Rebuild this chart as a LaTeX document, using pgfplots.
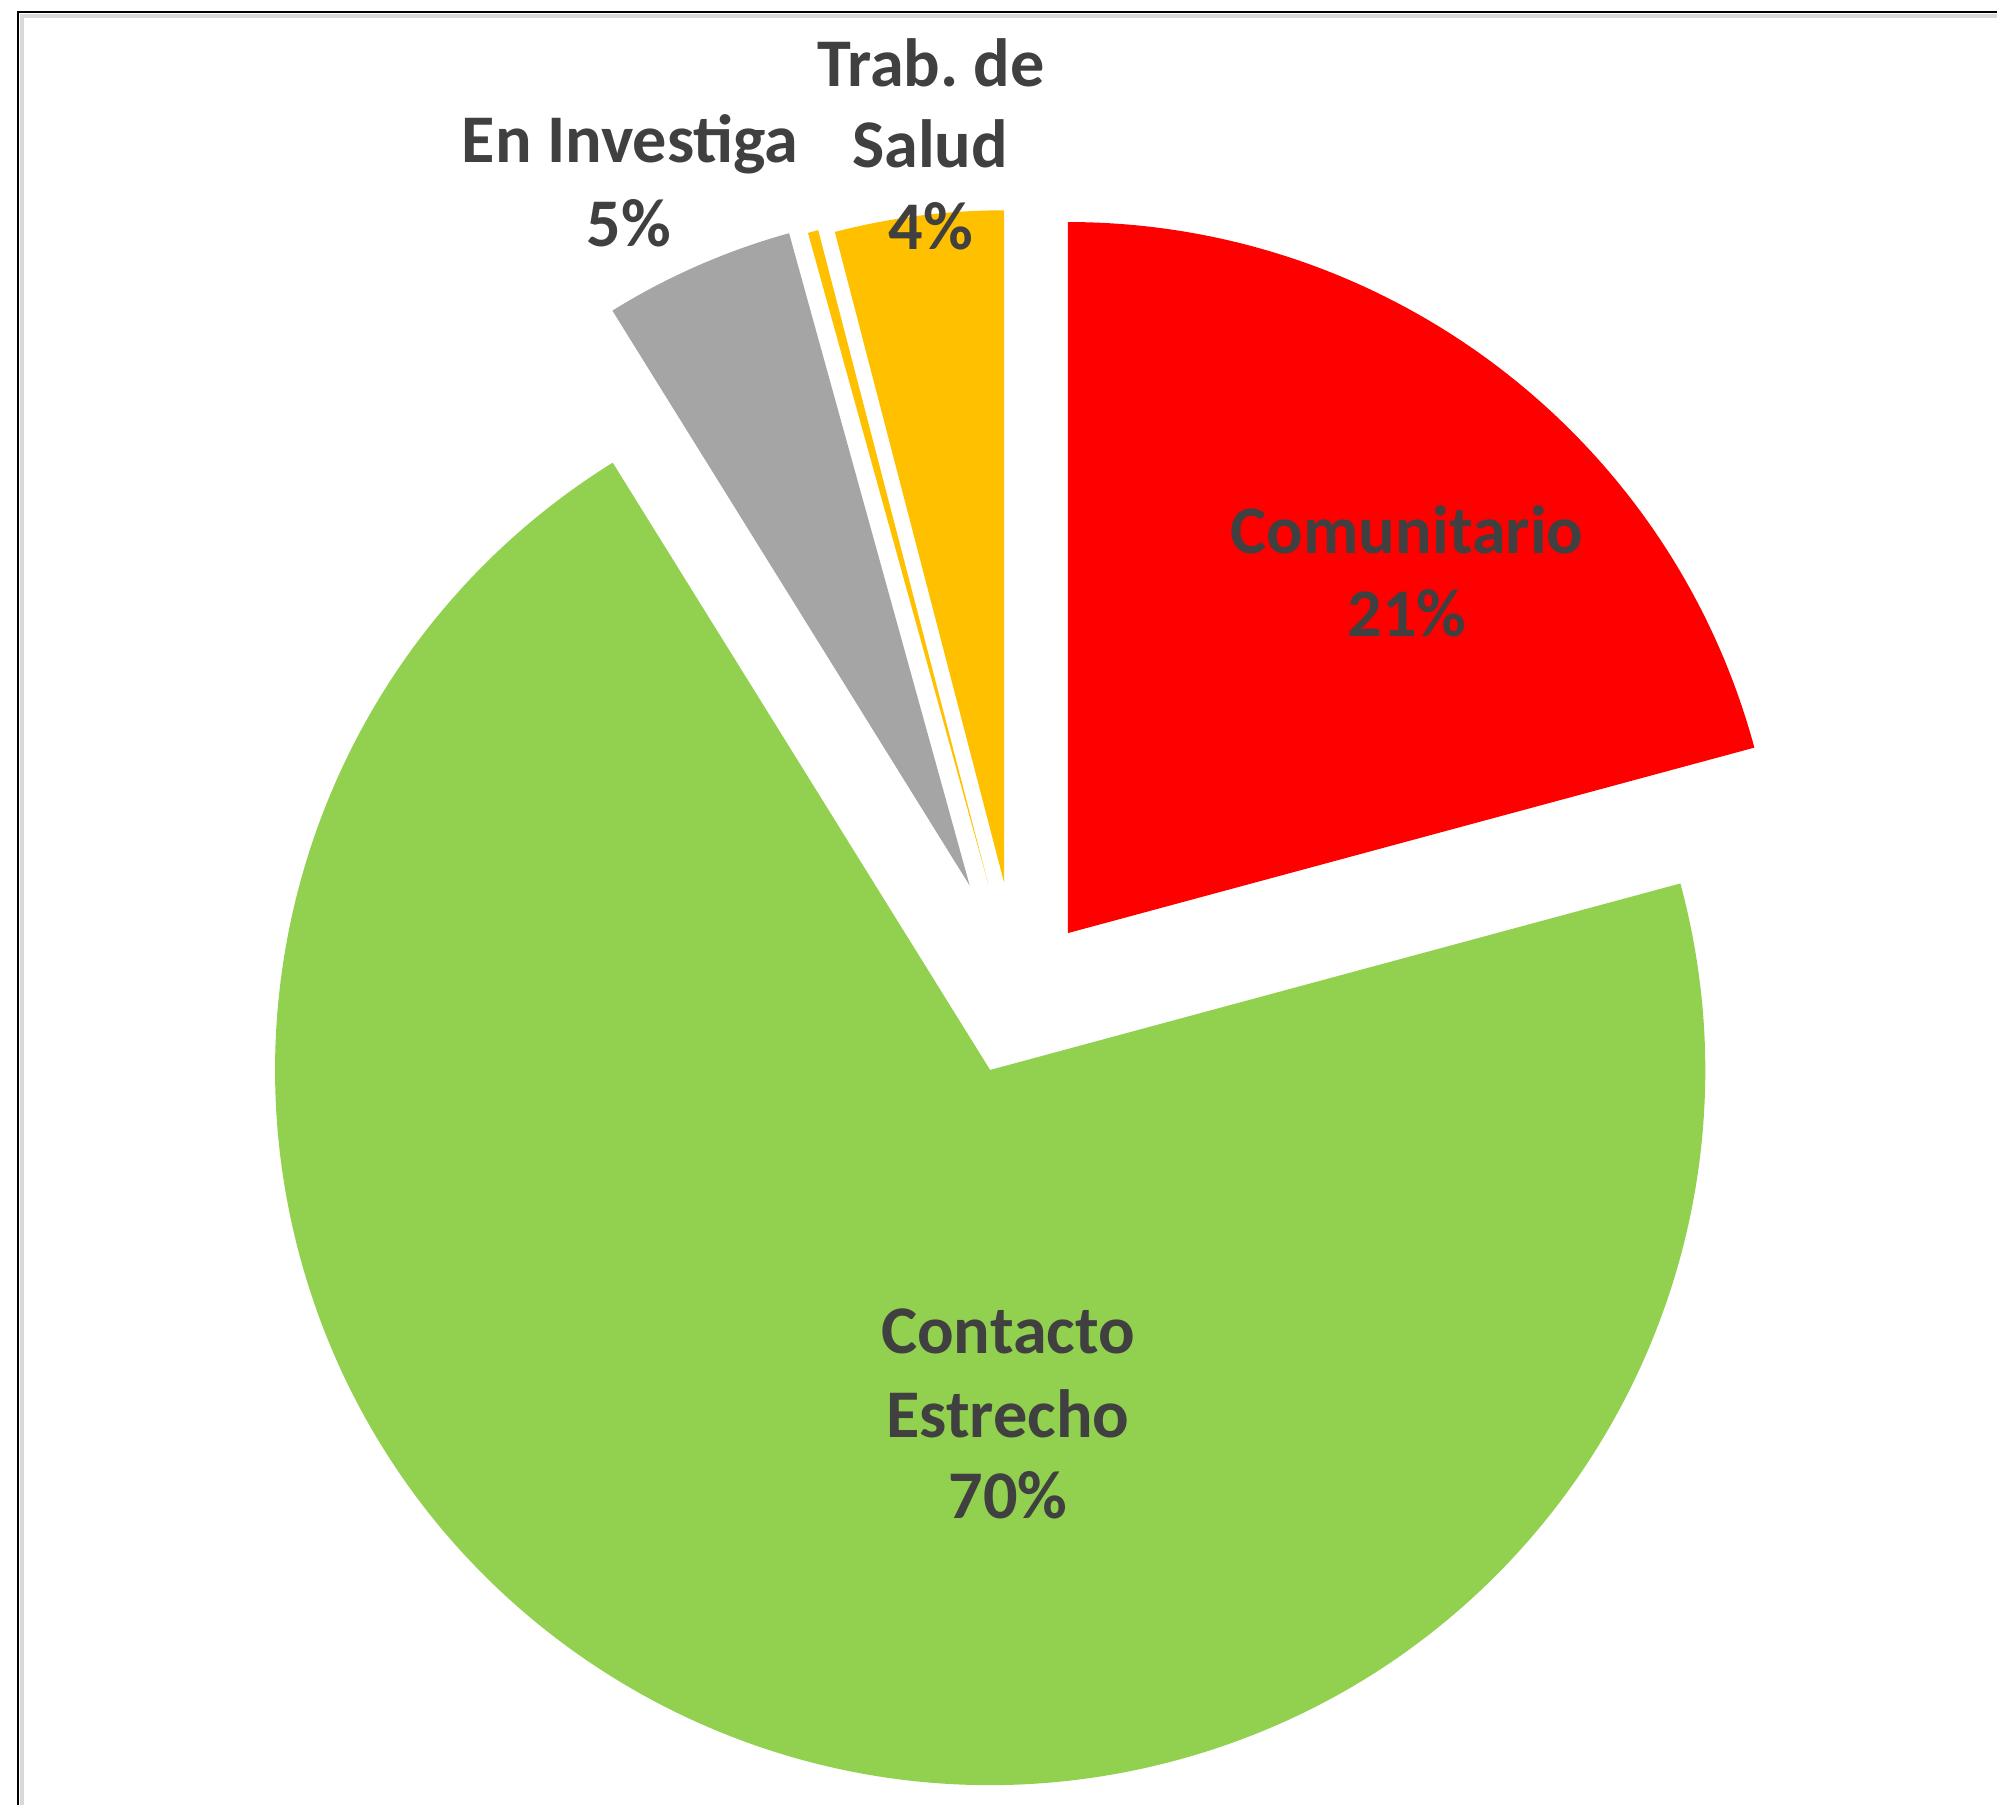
\documentclass[border=0pt]{standalone}
\usepackage{pgfplots}
\usepackage{pgfplotstable}
\pgfplotsset{compat=1.18}
\usepackage{fontspec}
\setmainfont{Carlito}
\frenchspacing

\definecolor{sliceRed}{HTML}{FF0000}
\definecolor{sliceGreen}{HTML}{92D050}
\definecolor{sliceGray}{HTML}{A5A5A5}
\definecolor{sliceYellow}{HTML}{FFC000}
\definecolor{labelgray}{HTML}{404040}
\definecolor{frameshadow}{HTML}{D9D9D9}

% share in percent (clockwise from 12 o'clock), explosion and radius in px
\pgfplotstableread{
share explode radius colour
20.80  81 711 sliceRed
70.35  78 715 sliceGreen
4.55  122 677 sliceGray
0.25  118 675 sliceYellow
4.05  116 672 sliceYellow
}\piedata

\begin{document}
\begin{tikzpicture}
\begin{axis}[
  name=ax,
  x=0.01cm, y=0.01cm,
  xmin=0, xmax=1997, ymin=0, ymax=1805,
  hide axis, clip=false, scale only axis
]
\pgfplotsextra{
  % frame of the chart area (cut off right and bottom)
  \draw[frameshadow, line width=0.04cm] (axis cs:22,0) -- (axis cs:22,1789) -- (axis cs:1997,1789);
  \draw[black, line width=0.022cm] (axis cs:18.3,0) -- (axis cs:18.3,1792.7) -- (axis cs:1997,1792.7);
  % slices
  \xdef\angA{90}
  \foreach \i in {0,...,4}{
    \pgfplotstablegetelem{\i}{share}\of\piedata \let\share\pgfplotsretval
    \pgfplotstablegetelem{\i}{explode}\of\piedata \let\ex\pgfplotsretval
    \pgfplotstablegetelem{\i}{radius}\of\piedata \let\rad\pgfplotsretval
    \pgfplotstablegetelem{\i}{colour}\of\piedata \let\col\pgfplotsretval
    \pgfmathsetmacro\angB{\angA-3.6*\share}
    \pgfmathsetmacro\mid{(\angA+\angB)/2}
    \pgfmathsetmacro\cx{1018.7+\ex*cos(\mid)}
    \pgfmathsetmacro\cy{807.6+\ex*sin(\mid)}
    \pgfmathsetmacro\rr{0.01*\rad}
    \fill[fill=\col] (axis cs:\cx,\cy) -- ++(\angA:\rr cm)
      arc[start angle=\angA, end angle=\angB, radius=\rr cm] -- cycle;
    \xdef\angA{\angB}
  }
}
% data labels
\begin{scope}[every node/.style={anchor=base, text=labelgray,
    font=\fontsize{19.4}{23.6}\selectfont\bfseries}]
\node at (axis cs:1407,1251) {Comunitario};
\node at (axis cs:1407,1168) {21\%};
\node at (axis cs:1008,451) {Contacto};
\node at (axis cs:1008,368) {Estrecho};
\node at (axis cs:1008,287) {70\%};
\node at (axis cs:630,1642) {En Investiga};
\node at (axis cs:629,1558) {5\%};
\node at (axis cs:931,1718) {Trab. de};
\node at (axis cs:930,1637) {Salud};
\node at (axis cs:931,1555) {4\%};
\end{scope}
\end{axis}
\pgfresetboundingbox
\path (ax.south west) rectangle (ax.north east);
\end{tikzpicture}
\end{document}
